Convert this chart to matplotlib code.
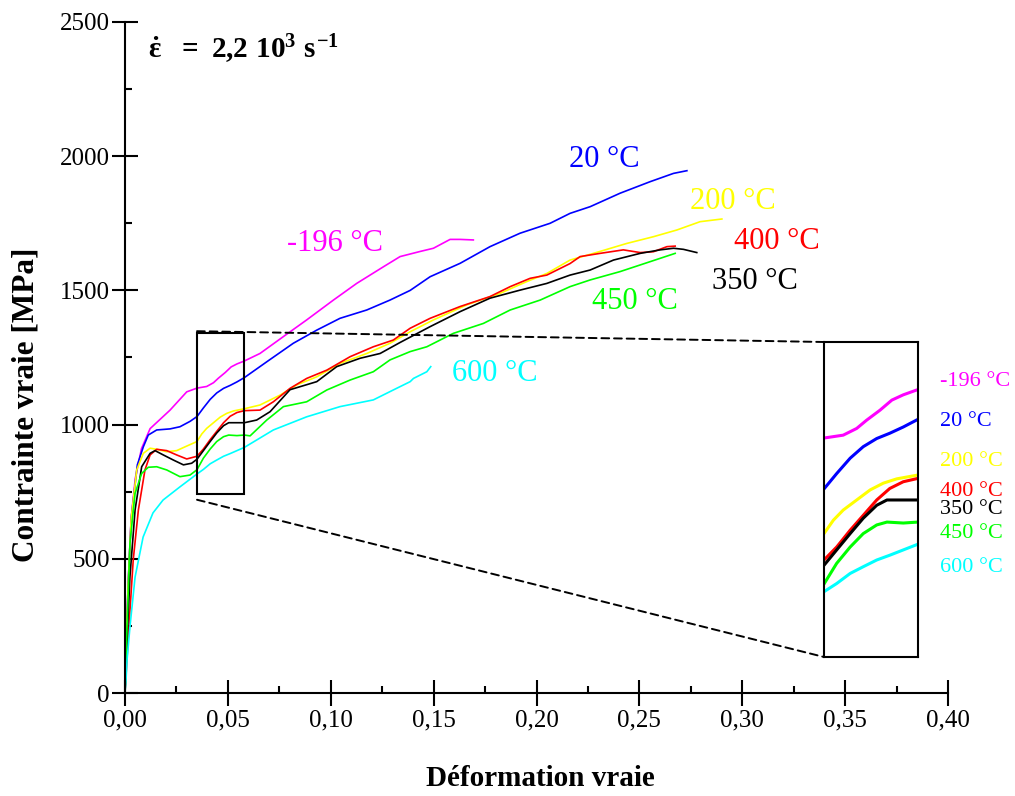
import matplotlib
matplotlib.use("Agg")
import matplotlib.pyplot as plt
from matplotlib.ticker import MultipleLocator, FuncFormatter
from matplotlib.patches import Rectangle, ConnectionPatch

plt.rcParams['font.family'] = ['Liberation Serif', 'DejaVu Serif']
plt.rcParams['mathtext.fontset'] = 'custom'
plt.rcParams['mathtext.rm'] = 'Liberation Serif:bold'
plt.rcParams['mathtext.it'] = 'Liberation Serif:bold'
plt.rcParams['mathtext.bf'] = 'Liberation Serif:bold'

# ---------------- data (true strain, true stress MPa) ----------------
labels = ['-196 °C', '20 °C', '200 °C', '400 °C', '350 °C', '450 °C', '600 °C']
colors = ['#FF00FF', '#0000FF', '#FFFF00', '#FF0000', '#000000', '#00FF00', '#00FFFF']

x_m196 = [0, 0.0005, 0.0015, 0.003, 0.005, 0.008, 0.0122, 0.0219, 0.030, 0.035, 0.0397, 0.043,
          0.0454, 0.0487, 0.0516, 0.0544, 0.058, 0.0656, 0.0770, 0.0883, 0.1013, 0.1126, 0.1256,
          0.1337, 0.1434, 0.1499, 0.1580, 0.1629, 0.1693]
y_m196 = [0, 150, 400, 650, 800, 910, 985, 1054, 1122, 1136, 1142, 1156, 1173, 1194, 1215, 1226,
          1237, 1265, 1328, 1390, 1464, 1526, 1588, 1626, 1645, 1657, 1690, 1690, 1688]

x_20 = [0, 0.0005, 0.0015, 0.003, 0.006, 0.0089, 0.0113, 0.0154, 0.0219, 0.0267, 0.0316, 0.035,
        0.0381, 0.0414, 0.0446, 0.0479, 0.0511, 0.0544, 0.058, 0.0689, 0.0818, 0.0932, 0.1045,
        0.1175, 0.1288, 0.1386, 0.1483, 0.1629, 0.1774, 0.1920, 0.2066, 0.2163, 0.2261, 0.2406,
        0.2552, 0.2666, 0.2731]
y_20 = [0, 150, 400, 650, 850, 917, 961, 980, 984, 992, 1012, 1030, 1062, 1094, 1118, 1135, 1146,
        1159, 1175, 1234, 1303, 1352, 1396, 1427, 1464, 1500, 1551, 1601, 1663, 1713, 1750, 1787,
        1812, 1862, 1905, 1936, 1946]

x_200 = [0, 0.0005, 0.0015, 0.003, 0.0057, 0.0089, 0.0122, 0.0154, 0.0203, 0.0251, 0.0300, 0.035,
         0.0373, 0.0397, 0.043, 0.0463, 0.0495, 0.0528, 0.058, 0.0656, 0.0754, 0.0835, 0.0932,
         0.1045, 0.1175, 0.1288, 0.1386, 0.1499, 0.1661, 0.1823, 0.1953, 0.2050, 0.2163, 0.2277,
         0.2439, 0.2568, 0.2682, 0.2795, 0.2901]
y_200 = [0, 150, 400, 650, 831, 893, 912, 908, 899, 903, 920, 937, 965, 986, 1007, 1028, 1042,
         1051, 1059, 1073, 1110, 1148, 1178, 1228, 1265, 1303, 1346, 1390, 1446, 1489, 1533, 1563,
         1613, 1638, 1675, 1700, 1725, 1756, 1766]

x_400 = [0, 0.0015, 0.004, 0.0065, 0.0097, 0.0122, 0.0154, 0.0203, 0.0251, 0.0300, 0.035, 0.0381,
         0.0414, 0.0446, 0.0479, 0.0511, 0.0544, 0.058, 0.0656, 0.0721, 0.0802, 0.0883, 0.0981,
         0.1094, 0.1207, 0.1304, 0.1386, 0.1483, 0.1629, 0.1774, 0.1872, 0.1969, 0.2050, 0.2163,
         0.2212, 0.2309, 0.2422, 0.2504, 0.2568, 0.2634, 0.2674]
y_400 = [0, 200, 496, 682, 831, 887, 908, 903, 887, 872, 882, 909, 944, 975, 1007, 1031, 1045,
         1052, 1054, 1085, 1135, 1172, 1203, 1253, 1290, 1315, 1359, 1396, 1440, 1477, 1514, 1545,
         1557, 1600, 1626, 1638, 1651, 1641, 1644, 1663, 1665]

x_350 = [0, 0.001, 0.0024, 0.0049, 0.0081, 0.0122, 0.0146, 0.0186, 0.0235, 0.0284, 0.0324, 0.035,
         0.0381, 0.0414, 0.0446, 0.0479, 0.0504, 0.058, 0.0640, 0.0705, 0.0802, 0.0932, 0.1029,
         0.1142, 0.1240, 0.1337, 0.1483, 0.1629, 0.1774, 0.1920, 0.2050, 0.2163, 0.2261, 0.2374,
         0.2504, 0.2601, 0.2666, 0.2714, 0.2779]
y_350 = [0, 200, 433, 682, 843, 893, 903, 887, 868, 850, 856, 871, 903, 937, 969, 996, 1007, 1007,
         1017, 1048, 1130, 1160, 1216, 1247, 1265, 1306, 1365, 1421, 1471, 1501, 1526, 1557, 1576,
         1613, 1638, 1651, 1657, 1653, 1641]

x_450 = [0, 0.001, 0.0024, 0.0049, 0.0081, 0.0113, 0.0154, 0.0203, 0.0267, 0.0316, 0.035, 0.0381,
         0.0414, 0.0446, 0.0479, 0.0504, 0.0544, 0.058, 0.0608, 0.0689, 0.0770, 0.0883, 0.0981,
         0.1094, 0.1207, 0.1288, 0.1386, 0.1467, 0.1596, 0.1742, 0.1872, 0.2018, 0.2163, 0.2261,
         0.2406, 0.2552, 0.2674]
y_450 = [0, 250, 557, 744, 818, 841, 843, 831, 806, 812, 832, 875, 909, 937, 955, 961, 959, 961,
         958, 1017, 1067, 1085, 1129, 1166, 1197, 1241, 1272, 1290, 1340, 1377, 1427, 1464, 1514,
         1539, 1570, 1607, 1638]

x_600 = [0, 0.0005, 0.001, 0.0024, 0.0049, 0.0088, 0.0136, 0.0185, 0.0267, 0.035, 0.0381, 0.0414,
         0.0446, 0.0479, 0.0511, 0.0544, 0.058, 0.0721, 0.0883, 0.1045, 0.1207, 0.1304, 0.1386,
         0.1402, 0.1467, 0.1486]
y_600 = [0, 48, 123, 246, 432, 581, 671, 719, 768, 816, 833, 854, 868, 882, 892, 903, 915, 980,
         1029, 1067, 1092, 1129, 1160, 1172, 1197, 1216]

series_x = [x_m196, x_20, x_200, x_400, x_350, x_450, x_600]
series_y = [y_m196, y_20, y_200, y_400, y_350, y_450, y_600]

# label positions (data coords) for main plot
label_pos = [(0.1021, 1673), (0.2329, 1986), (0.2956, 1833), (0.3170, 1684),
             (0.3063, 1535), (0.2479, 1460), (0.1799, 1189)]
# inset label positions (pixel centres)
inset_label_px = [(975, 382), (966, 421), (971, 462), (971, 491), (971, 509), (971, 533), (971, 567)]

zoom_x = (0.035, 0.058)
zoom_box_y = (740, 1340)
inset_ylim = (680, 1336)

W, H = 1015, 796
fig = plt.figure(figsize=(W / 100, H / 100), dpi=100)
ax = fig.add_axes([125 / W, 103 / H, 823 / W, 671 / H])

for xs, ys, c in zip(series_x, series_y, colors):
    ax.plot(xs, ys, color=c, lw=1.2, solid_joinstyle='round')

ax.set_xlim(0, 0.40)
ax.set_ylim(0, 2500)
for s in ['top', 'right']:
    ax.spines[s].set_visible(False)
for s in ['left', 'bottom']:
    ax.spines[s].set_linewidth(1.5)

ax.xaxis.set_major_locator(MultipleLocator(0.05))
ax.xaxis.set_minor_locator(MultipleLocator(0.025))
ax.yaxis.set_major_locator(MultipleLocator(500))
ax.yaxis.set_minor_locator(MultipleLocator(250))
ax.xaxis.set_major_formatter(FuncFormatter(lambda v, p: f"{v:.2f}".replace('.', ',')))
ax.yaxis.set_major_formatter(FuncFormatter(lambda v, p: f"{int(round(v))}"))
ax.tick_params(which='major', direction='inout', length=19, width=1.5, labelsize=18, pad=1.5)
ax.tick_params(axis='x', which='major', pad=2)
ax.tick_params(which='minor', direction='in', length=5, width=1.5)

for (lx, ly), lab, c in zip(label_pos, labels, colors):
    ax.text(lx, ly, lab, color=c, fontsize=22, ha='center', va='center')

ax.text(0.0112, 2398, r'$\dot{\varepsilon}\ \ =\ 2{,}2\ 10^{3}\ s^{-1}$', fontsize=21,
        ha='left', va='center')

fig.text(540 / W, 1 - 778 / H, 'Déformation vraie', fontsize=21, fontweight='bold',
         ha='center', va='center')
fig.text(26 / W, 1 - 405 / H, 'Contrainte vraie [MPa]', fontsize=22.5, fontweight='bold',
         ha='center', va='center', rotation=90)

# zoom box in main
ax.add_patch(Rectangle((zoom_x[0], zoom_box_y[0]), zoom_x[1] - zoom_x[0],
                       zoom_box_y[1] - zoom_box_y[0], fill=False, ec='black', lw=1.5, zorder=5))

# inset
axi = fig.add_axes([824 / W, (H - 657) / H, 94 / W, 315 / H])
for xs, ys, c in zip(series_x, series_y, colors):
    axi.plot(xs, ys, color=c, lw=2.2)
axi.set_xlim(*zoom_x)
axi.set_ylim(*inset_ylim)
axi.set_xticks([])
axi.set_yticks([])
for s in axi.spines.values():
    s.set_linewidth(1.5)

for (px, py), lab, c in zip(inset_label_px, labels, colors):
    fig.text(px / W, 1 - py / H, lab, color=c, fontsize=16, ha='center', va='center')

# dashed connectors
for ya, yb in [(1348, 1), (720, 0)]:
    con = ConnectionPatch(xyA=(zoom_x[0], ya), coordsA=ax.transData,
                          xyB=(0, yb), coordsB=axi.transAxes,
                          color='black', lw=1.4, linestyle=(0, (4, 2.5)))
    fig.add_artist(con)

fig.savefig('out.png', dpi=100)
